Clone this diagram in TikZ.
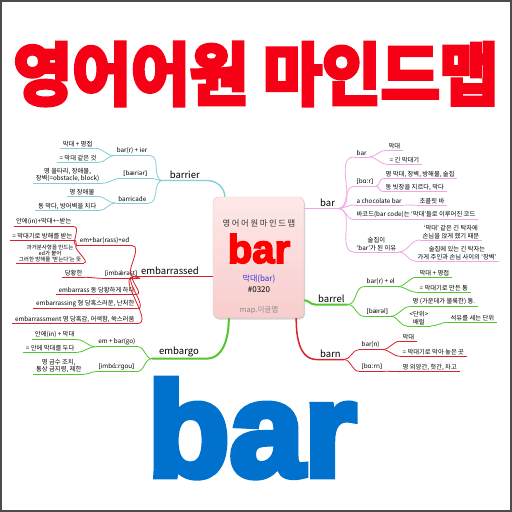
\documentclass[tikz,border=0pt]{standalone}
\usepackage{fontspec}
\usepackage{graphicx}
\setmainfont{Noto Sans CJK KR}
\newfontfamily\ipafont{Noto Sans}
\newfontfamily\titlefont[FakeBold=6]{Noto Sans CJK KR Bold}
\newfontfamily\barfont[FakeBold=5]{Liberation Sans Bold}
\newfontfamily\cbarfont[FakeBold=4]{Liberation Sans Bold}
\usetikzlibrary{positioning, shadows}
\definecolor{titlered}{RGB}{245,0,20}
\definecolor{barblue}{RGB}{0,114,206}
\definecolor{pinkln}{RGB}{240,165,230}
\definecolor{tealln}{RGB}{135,205,215}
\definecolor{redln}{RGB}{215,35,45}
\definecolor{greenln}{RGB}{80,200,45}
\definecolor{boxtop}{RGB}{254,232,232}
\definecolor{boxbot}{RGB}{248,205,205}
\definecolor{meanblue}{RGB}{50,50,220}

\begin{document}
\begin{tikzpicture}[x=1pt, y=-1pt,
  topic/.style={inner xsep=3pt, inner ysep=1.5pt, font=\fontsize{9.5}{11}\selectfont},
  topicL/.style={topic, inner xsep=7pt},
  leaf/.style={inner xsep=2.5pt, inner ysep=1.2pt, align=center,
    font=\fontsize{6.3}{7.3}\selectfont},
  tiny/.style={leaf, font=\fontsize{5.5}{6}\selectfont},
  cbox/.style={rectangle, rounded corners=5pt, draw=red!20!gray!40,
    top color=boxtop, bottom color=boxbot, minimum width=91pt,
    minimum height=121pt, drop shadow={shadow xshift=1pt, shadow yshift=-1.5pt, opacity=0.35}},
  pinkbr/.style={draw=pinkln, line width=0.8pt},
  tealbr/.style={draw=tealln, line width=0.8pt},
  redbr/.style={draw=redln, line width=0.8pt},
  greenbr/.style={draw=greenln, line width=0.8pt}
]
  \useasboundingbox (0,0) rectangle (512,512);
  \fill[white] (0,0) rectangle (512,512);
  \draw[line width=2pt, black!70] (1,1) rectangle (511,511);

  % title and big word
  \node[font=\titlefont\fontsize{68}{70}\selectfont, text=titlered] (title) at (256,74)
    {\scalebox{0.94}[1]{영어어원 마인드맵}};
  \node[font=\barfont\fontsize{134}{134}\selectfont, text=barblue, anchor=base] (bigbar) at (252,476) {bar};

  % central topic
  \node[cbox] (center) at (258.5,257.5) {};
  \node[font=\fontsize{8.3}{9}\selectfont\addfontfeature{LetterSpace=20}, text=black!80] (ctitle) at (259,223) {영어어원마인드맵};
  \node[font=\cbarfont\fontsize{40}{40}\selectfont, text=red, anchor=base] (cword) at (259,263) {bar};
  \node[font=\fontsize{8}{9}\selectfont, text=meanblue] (cmean) at (259,279) {막대(bar)};
  \node[font=\fontsize{8}{9}\selectfont] (cnum) at (259,290) {\#0320};
  \node[font=\fontsize{7.5}{9}\selectfont, text=black!45] (csig) at (259,310) {map.이글맵};

  % bar
  \node[topic, anchor=west] (bar) at (317,203) {bar};
  \node[leaf, anchor=west] (p1) at (354,153) {bar};
  \node[leaf, anchor=west] (p11) at (386,146) {막대};
  \node[leaf, anchor=west] (p12) at (387,160) {= 긴 막대기};
  \node[leaf, anchor=west] (p2) at (354,182) {\ipafont [bɑːr]};
  \node[leaf, anchor=west] (p21) at (383,174) {명 막대, 장벽, 방해물, 술집};
  \node[leaf, anchor=west] (p22) at (383,187) {동 빗장을 지르다, 막다};
  \node[leaf, anchor=west] (p3) at (354,201) {a chocolate bar};
  \node[leaf, anchor=west] (p31) at (417,201) {초콜릿 바};
  \node[leaf, anchor=west] (p4) at (354,215) {바코드(bar code)는 ‘막대’들로 이루어진 코드};
  \node[leaf, anchor=west] (p5) at (354,244) {술집이\\‘bar’가 된 이유};
  \node[leaf, anchor=west] (p51) at (420,232) {‘막대’ 같은 긴 탁자에\\손님을 앉게 했기 때문};
  \node[leaf, anchor=west] (p52) at (415,253) {술집에 있는 긴 탁자는\\가게 주인과 손님 사이의 ‘장벽’};

  % barrel
  \node[topic, anchor=west] (barrel) at (315,299) {barrel};
  \node[leaf, anchor=west] (g1) at (364,282) {bar(r) + el};
  \node[leaf, anchor=west] (g11) at (417,273) {막대 + 명접};
  \node[leaf, anchor=west] (g12) at (417,288) {= 막대기로 만든 통};
  \node[leaf, anchor=west] (g2) at (364,312) {\ipafont [bærəl]};
  \node[leaf, anchor=west] (g21) at (410,302) {명 (가운데가 불룩한) 통.};
  \node[leaf, anchor=west] (g22) at (407,318) {<단위>\\배럴};
  \node[leaf, anchor=west] (g221) at (448,318) {석유를 세는 단위};

  % barn
  \node[topic, anchor=west] (barn) at (317,354) {barn};
  \node[leaf, anchor=west] (r1) at (359,345) {bar(n)};
  \node[leaf, anchor=west] (r11) at (400,337) {막대};
  \node[leaf, anchor=west] (r12) at (400,352) {= 막대기로 막아 놓은 곳};
  \node[leaf, anchor=west] (r2) at (359,367) {\ipafont [bɑːrn]};
  \node[leaf, anchor=west] (r21) at (400,367) {명 외양간, 헛간, 차고};

  % barrier
  \node[topicL, anchor=east] (barrier) at (207,175) {barrier};
  \node[leaf, anchor=east] (t1) at (150,151) {bar(r) + ier};
  \node[leaf, anchor=east] (t11) at (95,144) {막대 + 명접};
  \node[leaf, anchor=east] (t12) at (99,158) {= 막대 같은 것};
  \node[leaf, anchor=east] (t2) at (150,174) {\ipafont [bæriər]};
  \node[leaf, anchor=east] (t21) at (102,175) {명 울타리, 장애물,\\장벽(=obstacle, block)};
  \node[leaf, anchor=east] (t3) at (149,199) {barricade};
  \node[leaf, anchor=east] (t31) at (97,192) {명 장애물};
  \node[leaf, anchor=east] (t32) at (99,206) {동 막다, 방어벽을 치다};

  % embarrassed
  \node[topicL, anchor=east] (emb) at (206,271) {embarrassed};
  \node[leaf, anchor=east] (e1) at (132,241) {em+bar(rass)+ed};
  \node[leaf, anchor=east] (e11) at (74,222) {안에(in)+막대+\textasciitilde 받는};
  \node[leaf, anchor=east] (e12) at (75,236) {= 막대기로 방해를 받는};
  \node[tiny, anchor=east] (e13) at (84,253) {과거분사형을 만드는\\ed가 붙어\\그러한 방해를 ‘받는다’는 뜻};
  \node[leaf, anchor=east] (e2) at (140,274) {\ipafont [imbǽrəst]};
  \node[leaf, anchor=east] (e21) at (85,273) {당황한};
  \node[leaf, anchor=east] (e3) at (137,290) {embarrass 동 당황하게 하다};
  \node[leaf, anchor=east] (e4) at (137,304) {embarrassing 형 당혹스러운, 난처한};
  \node[leaf, anchor=east] (e5) at (137,319) {embarrassment 명 당혹감, 어색함, 쑥스러움};

  % embargo
  \node[topicL, anchor=east] (embargo) at (206,352) {embargo};
  \node[leaf, anchor=east] (m1) at (138,342) {em + bar(go)};
  \node[leaf, anchor=east] (m11) at (77,335) {안에(in) + 막대};
  \node[leaf, anchor=east] (m12) at (77,348) {= 안에 막대를 두다};
  \node[leaf, anchor=east] (m2) at (137,367) {\ipafont [imbɑ́ːrgou]};
  \node[leaf, anchor=east] (m21) at (84,366) {명 금수 조치,\\통상 금지령, 제한};

  % main branches
  \draw[pinkbr, line width=1.4pt] (center.east |- bar.south) -- (bar.south east);
  \draw[greenbr, line width=2pt] ([yshift=18pt]center.south east) to[out=0,in=180] (barrel.south west) -- (barrel.south east);
  \draw[redbr, line width=1.5pt] ([xshift=-8pt]center.south east) to[out=-90,in=180] (barn.south west) -- (barn.south east);
  \draw[tealbr, line width=1.4pt] (barrier.south west) -- (barrier.south east) to[out=0,in=90] ([xshift=12pt]center.north west);
  \draw[redbr, line width=1.5pt] (emb.south west) -- (emb.south east) -- (center.west |- emb.south east);
  \draw[greenbr, line width=2pt] (embargo.south west) -- (embargo.south east) to[out=0,in=-90] ([xshift=16pt]center.south west);

  % underlines
  \foreach \n in {p1,p11,p12,p2,p21,p22,p3,p31,p4,p5,p51,p52}
    \draw[pinkbr] (\n.south west) -- (\n.south east);
  \foreach \n in {g1,g11,g12,g2,g21,g22,g221}
    \draw[greenbr] (\n.south west) -- (\n.south east);
  \foreach \n in {r1,r11,r12,r2,r21}
    \draw[redbr] (\n.south west) -- (\n.south east);
  \foreach \n in {t1,t11,t12,t2,t21,t3,t31,t32}
    \draw[tealbr] (\n.south west) -- (\n.south east);
  \foreach \n in {e1,e11,e12,e13,e2,e21,e3,e4,e5}
    \draw[redbr] (\n.south west) -- (\n.south east);
  \foreach \n in {m1,m11,m12,m2,m21}
    \draw[greenbr] (\n.south west) -- (\n.south east);

  % sub branches, right side
  \foreach \a/\b in {bar/p1,bar/p2,bar/p3,bar/p4,bar/p5,p1/p11,p1/p12,p2/p21,p2/p22,p3/p31,p5/p51,p5/p52}
    \draw[pinkbr] (\a.south east) to[out=0,in=180] (\b.south west);
  \foreach \a/\b in {barrel/g1,barrel/g2,g1/g11,g1/g12,g2/g21,g2/g22,g22/g221}
    \draw[greenbr] (\a.south east) to[out=0,in=180] (\b.south west);
  \foreach \a/\b in {barn/r1,barn/r2,r1/r11,r1/r12,r2/r21}
    \draw[redbr] (\a.south east) to[out=0,in=180] (\b.south west);

  % sub branches, left side
  \foreach \a/\b in {barrier/t1,barrier/t2,barrier/t3,t1/t11,t1/t12,t2/t21,t3/t31,t3/t32}
    \draw[tealbr] (\a.south west) to[out=180,in=0] (\b.south east);
  \foreach \a/\b in {emb/e1,emb/e2,emb/e3,emb/e4,emb/e5,e1/e11,e1/e12,e1/e13,e2/e21}
    \draw[redbr] (\a.south west) to[out=180,in=0] (\b.south east);
  \foreach \a/\b in {embargo/m1,embargo/m2,m1/m11,m1/m12,m2/m21}
    \draw[greenbr] (\a.south west) to[out=180,in=0] (\b.south east);
\end{tikzpicture}
\end{document}
